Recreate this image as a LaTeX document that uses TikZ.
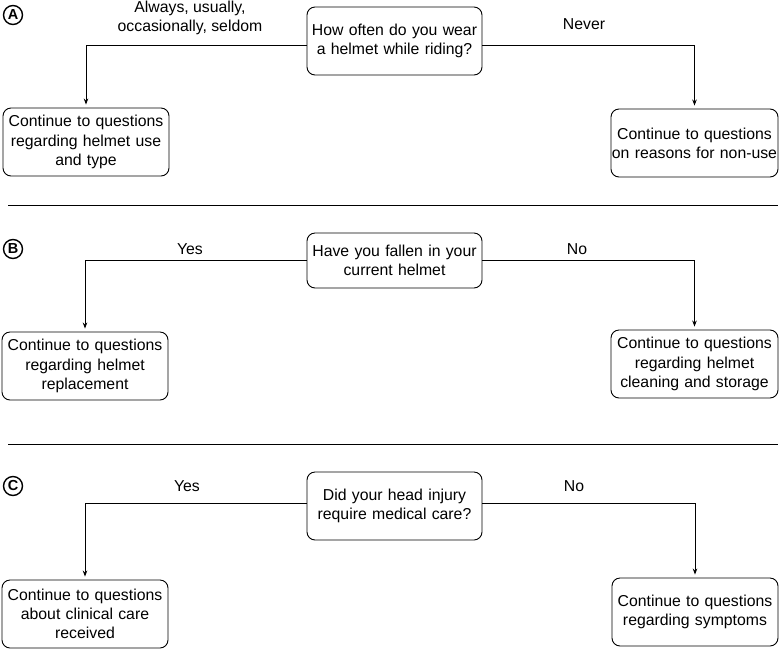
\documentclass[tikz,border=0pt]{standalone}
\usepackage{fontspec}
\setmainfont{Liberation Sans}
\usetikzlibrary{arrows.meta}
\begin{document}
\begin{tikzpicture}[x=1pt,y=-1pt,
  font=\fontsize{15.8}{19.2}\selectfont,
  box/.style={draw,rounded corners=8pt,line width=0.9pt,align=center,inner sep=0pt},
  qbox/.style={box,minimum width=175pt,text width=175pt},
  abox/.style={box,minimum width=166pt,minimum height=68pt,text width=166pt},
  lab/.style={align=center,inner sep=0pt},
  arr/.style={line width=0.8pt,-{Stealth[length=6pt,width=4.5pt]},shorten >=3pt},
  tag/.style={circle,draw,line width=1.4pt,minimum size=19pt,inner sep=0pt,font=\fontsize{14.5}{14.5}\selectfont\bfseries},
  sep/.style={line width=0.8pt}]
\useasboundingbox (0,0) rectangle (780,649);

% Panel A
\node[tag] (ta) at (13,15) {A};
\node[qbox,minimum height=68pt] (qa) at (394.5,41) {How often do you wear\\a helmet while riding?};
\node[abox] (la) at (86,142) {Continue to questions\\regarding helmet use\\and type};
\node[abox,minimum width=167pt,text width=167pt] (ra) at (694.5,143) {Continue to questions\\on reasons for non-use};
\draw[arr] ([yshift=-4pt]qa.west) -| (la.north);
\draw[arr] ([yshift=-4pt]qa.east) -| (ra.north);
\node[lab] (la1) at (190,18) {Always, usually,\\occasionally, seldom};
\node[lab] (ra1) at (584,24) {Never};
\coordinate (s1a) at (8,205);
\coordinate (s1b) at (778,205);
\draw[sep] (s1a) -- (s1b);

% Panel B
\node[tag] (tb) at (13,249) {B};
\node[qbox,minimum height=55pt] (qb) at (394.5,260.5) {Have you fallen in your\\current helmet};
\node[abox] (lb) at (85,366) {Continue to questions\\regarding helmet\\replacement};
\node[abox,minimum width=167pt,text width=167pt] (rb) at (694.5,364) {Continue to questions\\regarding helmet\\cleaning and storage};
\draw[arr] (qb.west) -| (lb.north);
\draw[arr] (qb.east) -| (rb.north);
\node[lab] (lb1) at (190,249) {Yes};
\node[lab] (rb1) at (577,249) {No};
\coordinate (s2a) at (8,444);
\coordinate (s2b) at (778,444);
\draw[sep] (s2a) -- (s2b);

% Panel C
\node[tag] (tc) at (13,486) {C};
\node[qbox,minimum height=68pt] (qc) at (394.5,506) {Did your head injury\\require medical care?};
\node[abox] (lc) at (85,614) {Continue to questions\\about clinical care\\received};
\node[abox] (rc) at (695,612) {Continue to questions\\regarding symptoms};
\draw[arr] ([yshift=3pt]qc.west) -| (lc.north);
\draw[arr] ([yshift=3pt]qc.east) -| (rc.north);
\node[lab] (lc1) at (187,486) {Yes};
\node[lab] (rc1) at (574,486) {No};
\end{tikzpicture}
\end{document}
